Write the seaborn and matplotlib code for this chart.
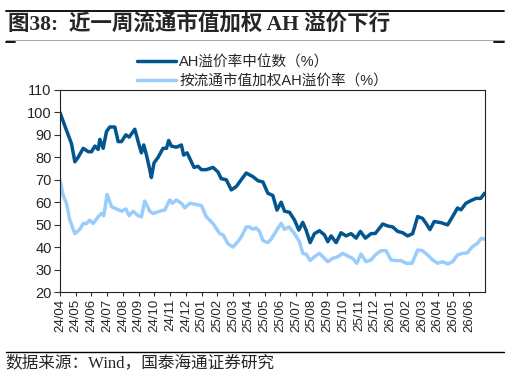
import numpy as np
import pandas as pd
import seaborn as sns
import matplotlib.pyplot as plt

# months since 2024-04 (weekly-ish readings) and values
median_t = [0, 0.42, 0.74, 0.95, 1.16, 1.48, 1.80, 2.01, 2.22, 2.43, 2.54, 2.75, 2.96, 3.17,
            3.49, 3.70, 3.91, 4.19, 4.40, 4.76, 5.03, 5.18, 5.33, 5.50, 5.71, 5.81, 5.98, 6.24,
            6.55, 6.77, 6.91, 7.08, 7.40, 7.72, 7.86, 8.08, 8.25, 8.52, 8.77, 8.99, 9.30, 9.73,
            10.04, 10.25, 10.57, 10.89, 11.21, 11.52, 11.84, 12.26, 12.58, 12.90, 13.21, 13.53,
            13.79, 14.06, 14.27, 14.59, 14.91, 15.18, 15.43, 15.64, 15.90, 16.17, 16.49, 16.81,
            17.02, 17.23, 17.55, 17.86, 18.18, 18.50, 18.82, 19.09, 19.41, 19.77, 20.04, 20.30,
            20.51, 20.83, 21.14, 21.46, 21.78, 22.09, 22.41, 22.73, 23.04, 23.26, 23.51, 23.78,
            24.21, 24.63, 24.95, 25.26, 25.48, 25.79, 26.11, 26.43, 26.74, 26.98]
median_v = [100, 92, 86, 78, 80, 84, 82.5, 82.5, 85, 83.5, 88, 84, 91.5, 93.5,
            93.5, 87, 87, 90, 89, 92.5, 85.5, 82, 85.5, 81, 74.5, 71, 77.5, 80,
            84, 84, 87.5, 85, 84.5, 85.5, 81, 82, 79.5, 75.5, 76, 74.5, 74.5, 75.5,
            73.5, 70.5, 70, 65.5, 67, 70, 73, 71.4, 69.6, 69, 64, 63,
            56.5, 60, 56, 55.5, 52, 47.6, 51, 47.6, 42, 46, 47.3, 45.4,
            42.4, 45, 42, 46.4, 45, 46, 44, 47, 44, 46, 46.1, 48.4,
            50.3, 49.4, 49, 47, 46.4, 45, 46, 53.6, 52.8, 50.6, 47.8, 51.4,
            50.9, 49.9, 53.6, 57.4, 56.6, 59.5, 60.7, 61.7, 61.7, 64]

weighted_t = [0, 0.21, 0.42, 0.63, 0.95, 1.27, 1.48, 1.69, 1.90, 2.11, 2.43, 2.64, 2.79, 3.00,
              3.28, 3.59, 3.91, 4.19, 4.40, 4.65, 4.97, 5.18, 5.39, 5.50, 5.71, 5.92, 6.34, 6.66,
              6.98, 7.15, 7.40, 7.72, 7.93, 8.25, 8.67, 8.99, 9.30, 9.73, 10.15, 10.36, 10.68,
              11.00, 11.31, 11.52, 11.84, 12.05, 12.26, 12.47, 12.68, 12.90, 13.21, 13.42, 13.85,
              14.06, 14.27, 14.55, 14.91, 15.22, 15.43, 15.64, 15.90, 16.17, 16.49, 16.81, 17.02,
              17.34, 17.65, 17.97, 18.29, 18.60, 18.86, 19.13, 19.45, 19.77, 20.04, 20.40, 20.72,
              21.04, 21.35, 21.67, 21.99, 22.37, 22.73, 23.04, 23.36, 23.68, 24.00, 24.31, 24.63,
              24.95, 25.26, 25.58, 25.90, 26.21, 26.53, 26.77, 26.98]
weighted_v = [70, 63, 59.5, 52, 46, 48, 50.5, 50.5, 52, 50.5, 53.5, 55, 54, 63.5,
              58, 57, 56, 57, 54, 56, 54, 53.5, 60.5, 59, 56, 55, 56, 56.5,
              61, 59.5, 61, 59.5, 57.5, 59.5, 59, 58.5, 53.5, 50.5, 46, 45.5, 41.5,
              40, 42.5, 44.5, 49, 49, 48, 48.5, 47, 42.9, 42, 43.5, 48.4,
              50.6, 47.9, 49, 46, 42.4, 37.2, 36.9, 34, 35.7, 37.2, 35, 33.5,
              35, 35.7, 37.2, 36, 35, 32.8, 36.9, 33.5, 34.3, 36.5, 38.4, 38.4,
              34.3, 34, 34, 32.8, 32.8, 38.7, 38.4, 36.5, 34.3, 32.8, 33.5, 32.5,
              33.5, 36.5, 37.2, 37.5, 40.2, 41.7, 43.9, 43.5]

month_labels = ["24/04", "24/05", "24/06", "24/07", "24/08", "24/09", "24/10", "24/11", "24/12",
                "25/01", "25/02", "25/03", "25/04", "25/05", "25/06", "25/07", "25/08", "25/09",
                "25/10", "25/11", "25/12", "26/01", "26/02", "26/03", "26/04", "26/05", "26/06"]

sns.set_theme(style="ticks")
plt.rcParams['font.family'] = ['Liberation Sans', 'Noto Sans CJK SC']
plt.rcParams['axes.unicode_minus'] = False

fig = plt.figure(figsize=(5.12, 3.78), dpi=100)
ax = fig.add_axes([0.117, 0.2275, 0.830, 0.5345])

sns.lineplot(x=median_t, y=median_v, color="#03558F", linewidth=2.5, ax=ax,
             label="AH溢价率中位数（%）")
sns.lineplot(x=weighted_t, y=weighted_v, color="#9BCDFB", linewidth=2.5, ax=ax,
             label="按流通市值加权AH溢价率（%）")

ax.set_xlim(0, 27.0)
ax.set_ylim(20, 110)
ax.set_yticks(range(20, 111, 10))
ax.set_xticks(range(len(month_labels)))
ax.set_xticklabels(month_labels, rotation=90)
ax.tick_params(axis='y', labelsize=10.5, length=4, width=0.8, color="#333333", pad=2)
ax.tick_params(axis='x', labelsize=9.5, length=3, width=0.8, color="#333333", pad=2)
for s in ax.spines.values():
    s.set_linewidth(0.8)
    s.set_color("#222222")

leg = ax.legend(loc="lower left", bbox_to_anchor=(0.181, 1.01), ncol=1, frameon=False,
                fontsize=10.5, handlelength=2.7, handletextpad=0.2, labelspacing=0.3,
                borderpad=0, borderaxespad=0)

# header / footer decoration
fig.add_artist(plt.Line2D([0.012, 0.985], [0.972, 0.972], color="black", linewidth=1.3))
fig.add_artist(plt.Line2D([0.012, 0.985], [0.893, 0.893], color="#999999", linewidth=0.6))
fig.add_artist(plt.Line2D([0.012, 0.030], [0.890, 0.890], color="black", linewidth=1.3))
fig.add_artist(plt.Line2D([0.965, 0.985], [0.890, 0.890], color="black", linewidth=1.3))
fig.add_artist(plt.Line2D([0.012, 0.985], [0.070, 0.070], color="black", linewidth=1.0))

fig.text(0.015, 0.933, "图38:  近一周流通市值加权 AH 溢价下行", fontsize=15.5, fontweight="bold",
         va="center", ha="left", family=['Liberation Serif', 'Noto Sans CJK SC'])
fig.text(0.010, 0.040, "数据来源：Wind，国泰海通证券研究", fontsize=12,
         va="center", ha="left", family=['Liberation Serif', 'Noto Sans CJK SC'])

plt.savefig("out.png", dpi=100)
plt.close()
